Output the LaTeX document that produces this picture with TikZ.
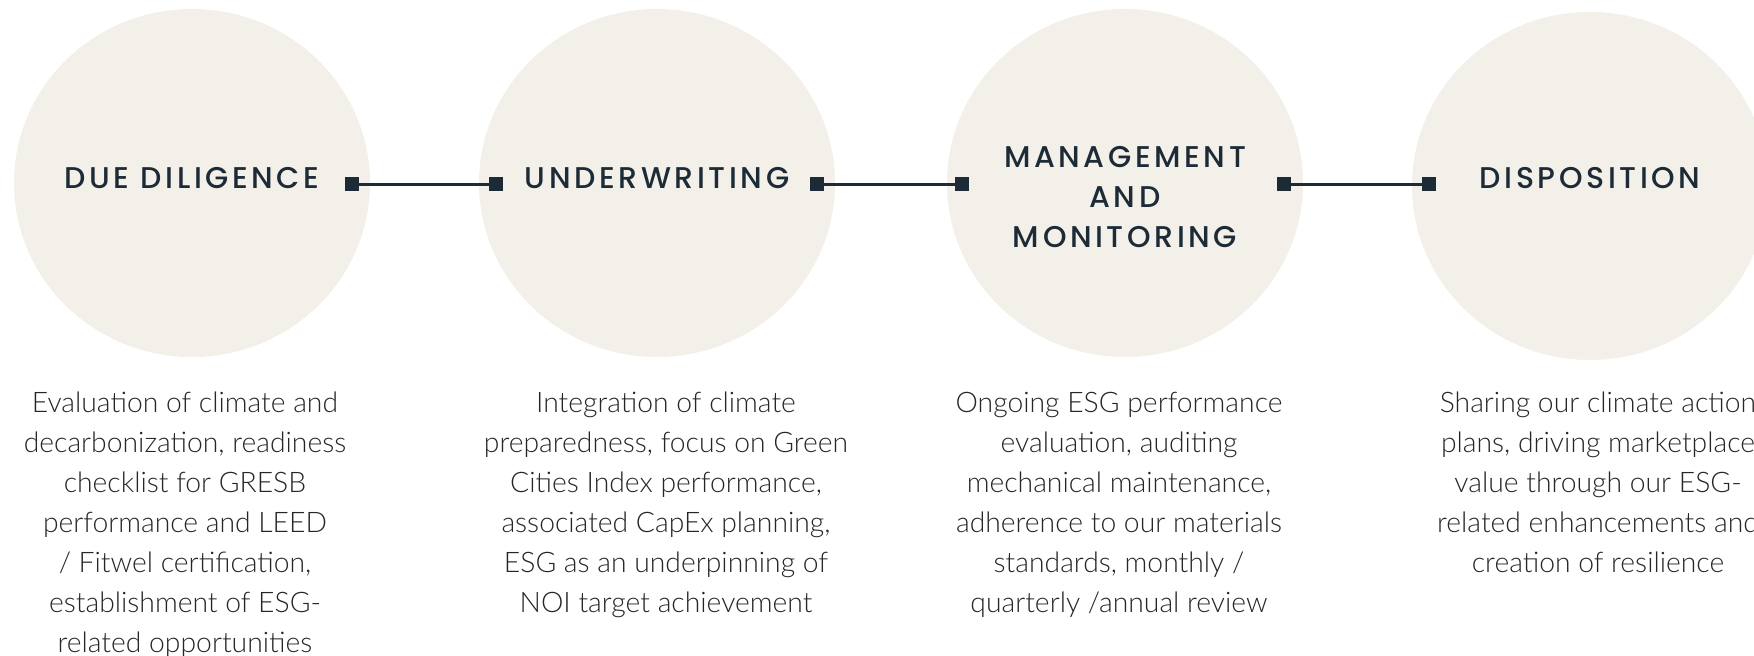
\documentclass[tikz,border=0pt]{standalone}
\usepackage{fontspec}
\setmainfont{Lato}[UprightFont=* Light]
\newfontfamily\headfont{Poppins}[UprightFont=* Medium, LetterSpace=12]
\usetikzlibrary{shapes.geometric}
\definecolor{sand}{RGB}{243, 240, 234}
\definecolor{ink}{RGB}{29, 43, 55}
\definecolor{copytext}{RGB}{38, 38, 38}

\tikzset{
  stage/.style={ellipse, fill=sand, minimum width=356pt, minimum height=348pt, inner sep=0pt},
  heading/.style={font=\headfont\fontsize{30}{40}\selectfont, text=ink, align=center, inner sep=0pt},
  % base = baseline of the last line
  blurb/.style={font=\fontsize{28.3}{40}\selectfont, text=copytext, align=center, anchor=base, inner sep=0pt},
  stud/.style={fill=ink, minimum size=14pt, inner sep=0pt},
  link/.style={ink, line width=3pt}
}

\begin{document}
\begin{tikzpicture}[x=1pt, y=-1pt]

  \clip (0, 0) rectangle (1754, 656);

  % the four stages
  \node[stage] (due)    at (192, 183)  {};
  \node[stage] (under)  at (657, 183)  {};
  \node[stage] (manage) at (1125, 183) {};
  \node[stage] (dispo)  at (1590, 186) {};

  \node[heading] (dueT)    at (192, 178)    {DUE DILIGENCE};
  \node[heading] (underT)  at (657, 178)    {UNDERWRITING};
  \node[heading] (manageT) at (1125, 197.5) {MANAGEMENT\\AND\\MONITORING};
  \node[heading] (dispoT)  at (1590, 178)   {DISPOSITION};

  % connectors with square ends
  \node[stud] (a1) at (352, 184)  {};
  \node[stud] (a2) at (496, 184)  {};
  \node[stud] (b1) at (817, 184)  {};
  \node[stud] (b2) at (962, 184)  {};
  \node[stud] (c1) at (1284, 184) {};
  \node[stud] (c2) at (1429, 184) {};
  \draw[link] (a1) -- (a2);
  \draw[link] (b1) -- (b2);
  \draw[link] (c1) -- (c2);

  % descriptions, first baseline at 412
  \node[blurb] (dueD) at (185, 652) {Evaluation of climate and\\decarbonization, readiness\\checklist for GRESB\\performance and LEED\\/ Fitwel certification,\\establishment of ESG-\\related opportunities};
  \node[blurb] (underD) at (666, 612) {Integration of climate\\preparedness, focus on Green\\Cities Index performance,\\associated CapEx planning,\\ESG as an underpinning of\\NOI target achievement};
  \node[blurb] (manageD) at (1119, 612) {Ongoing ESG performance\\evaluation, auditing\\mechanical maintenance,\\adherence to our materials\\standards, monthly /\\quarterly /annual review};
  \node[blurb] (dispoD) at (1598, 572) {Sharing our climate action\\plans, driving marketplace\\value through our ESG-\\related enhancements and\\creation of resilience};

\end{tikzpicture}
\end{document}
